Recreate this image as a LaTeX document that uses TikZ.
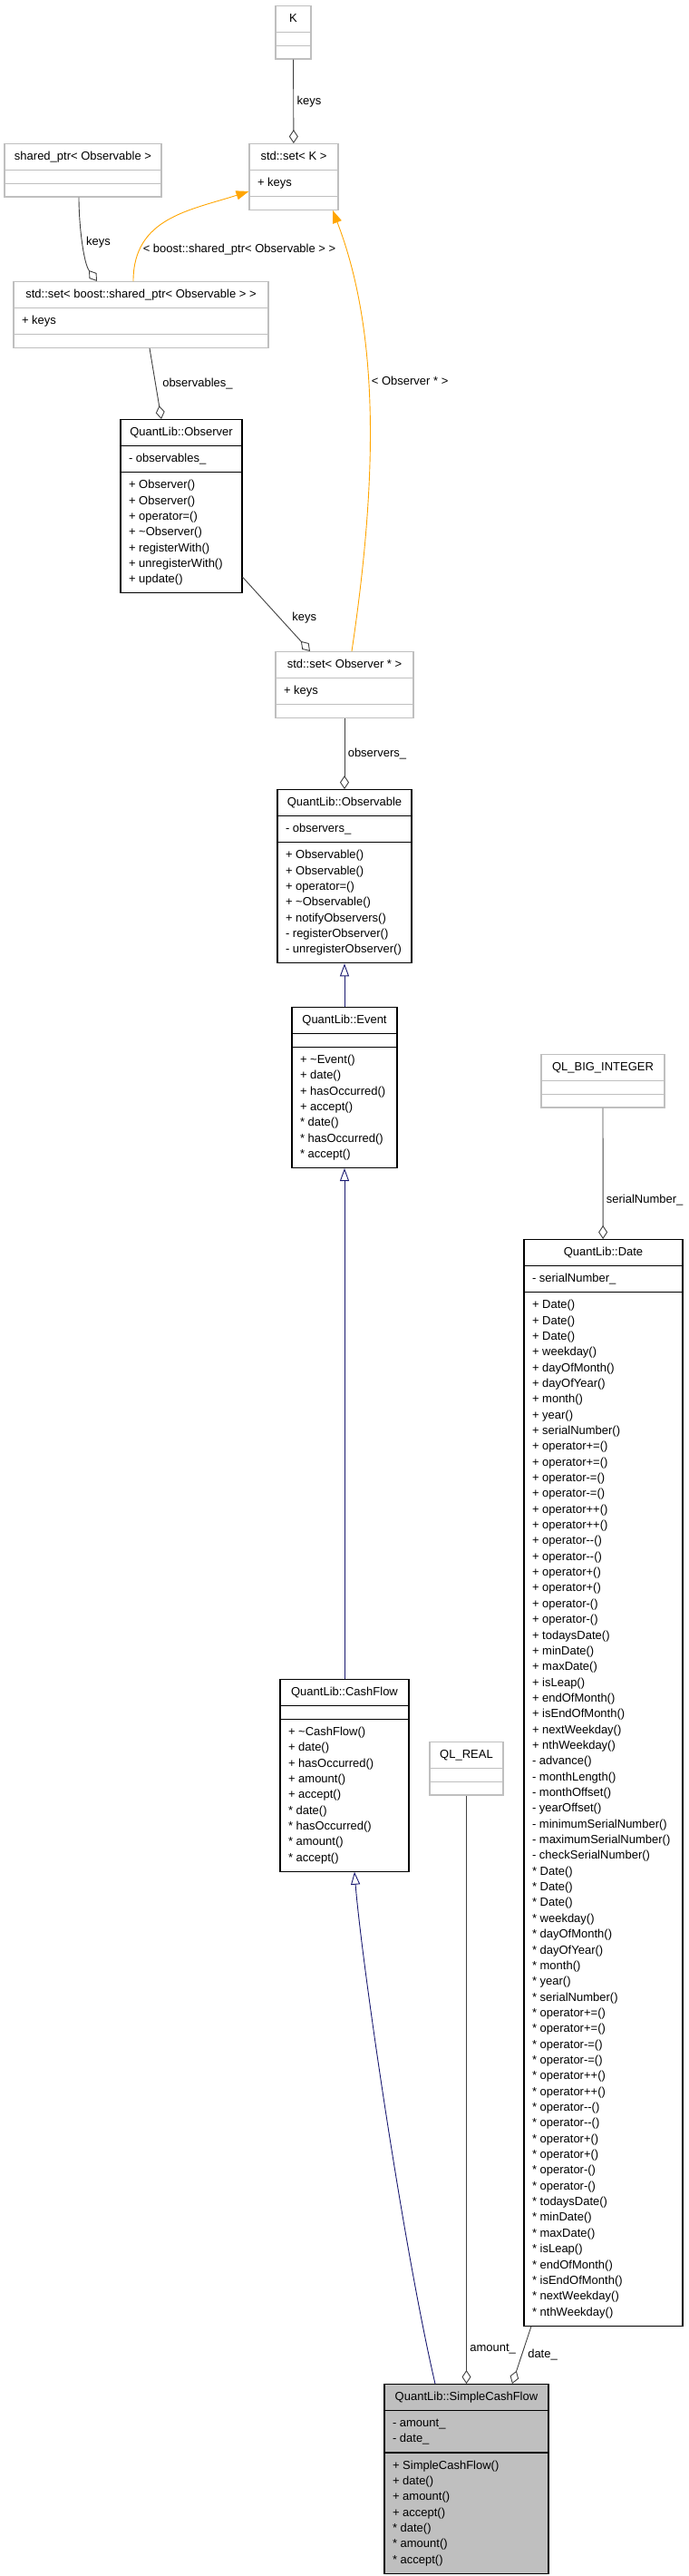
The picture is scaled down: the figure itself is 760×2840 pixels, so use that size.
\documentclass[tikz,border=0pt]{standalone}
\usepackage{fontspec}
\setmainfont{Liberation Sans}
\usepackage{xcolor}
\usepackage{tikz}
\usetikzlibrary{shapes.multipart, arrows.meta}
\definecolor{grey25}{HTML}{404040}
\definecolor{grey75}{HTML}{BFBFBF}
\definecolor{midnightblue}{HTML}{191970}
\definecolor{dotorange}{HTML}{FFA500}
\newcommand{\members}[1]{\begin{tabular}{@{}l@{}}#1\end{tabular}}

\begin{document}
\begin{tikzpicture}
  [
    x=1pt, y=-1pt,
    font=\fontsize{13pt}{17.35pt}\selectfont,
    Box/.style={rectangle split, rectangle split parts=3, rectangle split part align={center, left, left}, anchor=north, inner xsep=9pt, inner ysep=5.3pt, line width=1.1pt, fill=white},
    Gray/.style={Box, draw=grey75},
    Black/.style={Box, draw=black},
    Shaded/.style={Box, draw=black, fill=grey75},
    Usage/.style={{Diamond[open, length=15pt, width=10pt]}-, draw=grey25, line width=0.9pt},
    Inherit/.style={{Triangle[open, length=14pt, width=10pt]}-, draw=midnightblue, line width=0.9pt},
    Template/.style={{Triangle[length=14pt, width=10pt]}-, draw=dotorange, line width=0.9pt}
  ]
  \useasboundingbox (0, 0) rectangle (760, 2840);
  % Nodes
  \node[Gray, minimum width=39pt] (K) at(323.5, 6) {\members{K}\nodepart{two}\members{}\nodepart{three}\members{}};
  \node[Gray, minimum width=98pt] (setK) at(324, 158) {\members{std::set< K >}\nodepart{two}\members{+ keys}\nodepart{three}\members{}};
  \node[Gray, minimum width=173pt] (sharedPtr) at(91.5, 158) {\members{shared\_ptr< Observable >}\nodepart{two}\members{}\nodepart{three}\members{}};
  \node[Gray, minimum width=281pt] (setShared) at(155.5, 310) {\members{std::set< boost::shared\_ptr< Observable > >}\nodepart{two}\members{+ keys}\nodepart{three}\members{}};
  \node[Black, minimum width=134pt] (observer) at(200, 462) {\members{QuantLib::Observer}
    \nodepart{two}\members{- observables\_}
    \nodepart{three}\members{+ Observer()\\+ Observer()\\+ operator=()\\+ \textasciitilde Observer()\\+ registerWith()\\+ unregisterWith()\\+ update()}};
  \node[Gray, minimum width=152pt] (setObserver) at(380, 718) {\members{std::set< Observer * >}\nodepart{two}\members{+ keys}\nodepart{three}\members{}};
  \node[Black, minimum width=148pt] (observable) at(380, 870) {\members{QuantLib::Observable}
    \nodepart{two}\members{- observers\_}
    \nodepart{three}\members{+ Observable()\\+ Observable()\\+ operator=()\\+ \textasciitilde Observable()\\+ notifyObservers()\\- registerObserver()\\- unregisterObserver()}};
  \node[Black, minimum width=116pt] (event) at(380, 1110) {\members{QuantLib::Event}
    \nodepart{two}\members{}
    \nodepart{three}\members{+ \textasciitilde Event()\\+ date()\\+ hasOccurred()\\+ accept()\\{}* date()\\{}* hasOccurred()\\{}* accept()}};
  \node[Gray, minimum width=136pt] (bigInteger) at(665, 1162) {\members{QL\_BIG\_INTEGER}\nodepart{two}\members{}\nodepart{three}\members{}};
  \node[Black, minimum width=175pt] (date) at(665.5, 1366) {\members{QuantLib::Date}
    \nodepart{two}\members{- serialNumber\_}
    \nodepart{three}\members{+ Date()\\+ Date()\\+ Date()\\+ weekday()\\+ dayOfMonth()\\+ dayOfYear()\\+ month()\\+ year()\\+ serialNumber()\\
      + operator+=()\\+ operator+=()\\+ operator-=()\\+ operator-=()\\+ operator++()\\+ operator++()\\+ operator-{}-()\\+ operator-{}-()\\
      + operator+()\\+ operator+()\\+ operator-()\\+ operator-()\\+ todaysDate()\\+ minDate()\\+ maxDate()\\+ isLeap()\\+ endOfMonth()\\
      + isEndOfMonth()\\+ nextWeekday()\\+ nthWeekday()\\- advance()\\- monthLength()\\- monthOffset()\\- yearOffset()\\
      - minimumSerialNumber()\\- maximumSerialNumber()\\- checkSerialNumber()\\
      {}* Date()\\{}* Date()\\{}* Date()\\{}* weekday()\\{}* dayOfMonth()\\{}* dayOfYear()\\{}* month()\\{}* year()\\{}* serialNumber()\\
      {}* operator+=()\\{}* operator+=()\\{}* operator-=()\\{}* operator-=()\\{}* operator++()\\{}* operator++()\\{}* operator-{}-()\\{}* operator-{}-()\\
      {}* operator+()\\{}* operator+()\\{}* operator-()\\{}* operator-()\\{}* todaysDate()\\{}* minDate()\\{}* maxDate()\\{}* isLeap()\\{}* endOfMonth()\\
      {}* isEndOfMonth()\\{}* nextWeekday()\\{}* nthWeekday()}};
  \node[Black, minimum width=142pt] (cashFlow) at(380, 1851) {\members{QuantLib::CashFlow}
    \nodepart{two}\members{}
    \nodepart{three}\members{+ \textasciitilde CashFlow()\\+ date()\\+ hasOccurred()\\+ amount()\\+ accept()\\{}* date()\\{}* hasOccurred()\\{}* amount()\\{}* accept()}};
  \node[Gray, minimum width=81pt] (real) at(514.5, 1920) {\members{QL\_REAL}\nodepart{two}\members{}\nodepart{three}\members{}};
  \node[Shaded, minimum width=181pt] (simpleCashFlow) at(514.5, 2628) {\members{QuantLib::SimpleCashFlow}
    \nodepart{two}\members{- amount\_\\- date\_}
    \nodepart{three}\members{+ SimpleCashFlow()\\+ date()\\+ amount()\\+ accept()\\{}* date()\\{}* amount()\\{}* accept()}};
  % Lines
  \path [Usage] (setK) -- node[right] {keys} (K);
  \path [Usage] ([xshift=-48.5pt]setShared.north) .. controls +(-15, -20) and +(0, 30) .. node[right, pos=0.5] {keys} ([xshift=-4.5pt]sharedPtr.south);
  \path [Template] ([yshift=-16pt]setK.west) .. controls +(-65, 21) and +(0, -70) .. node[right, pos=0.8] {< boost::shared\_ptr< Observable > >} ([xshift=-8.5pt]setShared.north);
  \path [Template] ([xshift=43pt]setK.south) .. controls +(50, 130) and +(30, -200) .. node[right, pos=0.44] {< Observer * >} ([xshift=8pt]setObserver.north);
  \path [Usage] ([xshift=-22pt]observer.north) -- node[right=4pt] {observables\_} ([xshift=9.5pt]setShared.south);
  \path [Usage] ([xshift=-38pt]setObserver.north) -- node[right=10pt, pos=0.45] {keys} ([yshift=-78pt]observer.east);
  \path [Usage] (observable) -- node[right] {observers\_} (setObserver);
  \path [Inherit] (observable) -- (event);
  \path [Inherit] (event) -- (cashFlow);
  \path [Inherit] ([xshift=11pt]cashFlow.south) .. controls +(8, 100) and +(-35, -150) .. ([xshift=-34.5pt]simpleCashFlow.north);
  \path [Usage] (simpleCashFlow) -- node[right, pos=0.06] {amount\_} (real);
  \path [Usage] ([xshift=50.5pt]simpleCashFlow.north) -- node[right=3pt] {date\_} ([xshift=-79.5pt]date.south);
  \path [Usage] (date) -- node[right, pos=0.3] {serialNumber\_} (bigInteger);
\end{tikzpicture}
\end{document}
